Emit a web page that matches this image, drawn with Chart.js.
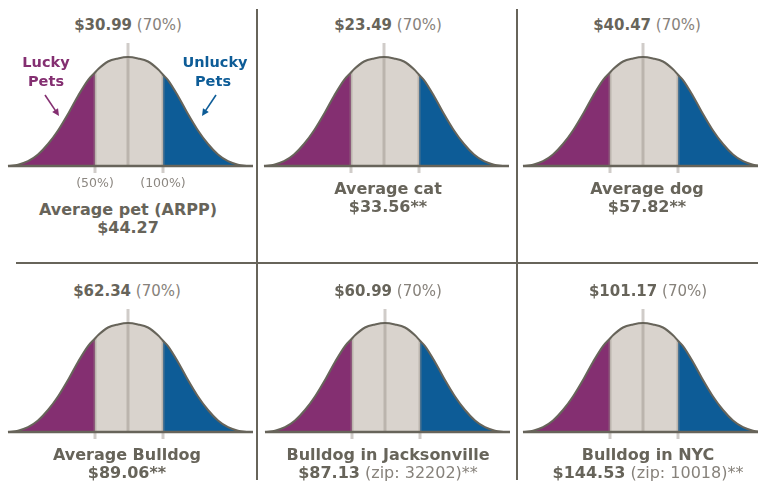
<!DOCTYPE html>
<html>
<head>
<meta charset="utf-8">
<script src="https://cdn.jsdelivr.net/npm/chart.js@4.4.1/dist/chart.umd.min.js"></script>
<style>
  html, body { margin: 0; padding: 0; background: #fff; }
  body { width: 758px; height: 488px; position: relative; overflow: hidden;
         font-family: "DejaVu Sans", sans-serif; color: #67645A; }
  canvas { position: absolute; }
  .txt { position: absolute; transform: translate(-50%, -50%); white-space: nowrap; line-height: 1; }
  .b { font-weight: bold; }
  .n { font-weight: normal; color: #87827B; }
  .rule { position: absolute; background: #67645A; }
</style>
</head>
<body>
<div class="rule" style="left:256px;top:9px;width:2px;height:471px"></div>
<div class="rule" style="left:516px;top:9px;width:2px;height:471px"></div>
<div class="rule" style="left:16px;top:262px;width:742px;height:2px"></div>

<script>
// panel labels
const titles = ['Average pet (ARPP)', 'Average cat', 'Average dog', 'Average Bulldog', 'Bulldog in Jacksonville', 'Bulldog in NYC'];
const price70 = ['$30.99', '$23.49', '$40.47', '$62.34', '$60.99', '$101.17'];
const price100 = ['$44.27', '$33.56', '$57.82', '$89.06', '$87.13', '$144.53'];
const boldNote = ['', '**', '**', '**', '', ''];
const plainNote = ['', '', '', '', ' (zip: 32202)**', ' (zip: 10018)**'];

// bell curve shape (offset from centre, height above baseline)
const curveX = [-120, -110, -100, -90, -80, -70, -60, -50, -40, -33, -30, -20, -10, 0, 10, 20, 30, 35, 40, 50, 60, 70, 80, 90, 100, 110, 120];
const curveY = [0, 1.3, 4.8, 11.5, 22, 35.5, 52, 70, 85.9, 93.5, 96.7, 104.5, 107.6, 109, 107.6, 104.5, 96.7, 91.3, 85.9, 70, 52, 35.5, 22, 11.5, 4.8, 1.3, 0];
const axisX = [-120, 125];

// 50% / 70% / 100% markers
const markerX = [-33, 0, 35];
const markerTop = [93.5, 123, 91.3];
const markerLabels = ['(50%)', '', '(100%)'];

const PURPLE = '#842F71', BLUE = '#0D5C97', SAND = '#D9D3CD', INK = '#67645A';

// where each panel sits on the page
const centerX = [128, 384, 643, 128, 385, 643];
const baseY = [166, 166, 166, 432, 432, 432];
const textX = [128, 388, 647, 127, 388, 648];

function pts(lo, hi) {
    return curveX.map((x, i) => ({ x, y: curveY[i] })).filter(p => p.x >= lo && p.x <= hi);
}

function addText(x, y, html, size) {
    const d = document.createElement('div');
    d.className = 'txt';
    d.style.left = x + 'px';
    d.style.top = y + 'px';
    d.style.fontSize = size + 'px';
    d.innerHTML = html;
    document.body.appendChild(d);
}

// arrows for the "Lucky / Unlucky Pets" callouts on the first panel
const arrowPlugin = {
    id: 'petArrows',
    afterDraw(chart) {
        const { ctx, scales: { x, y } } = chart;
        const arrows = [
            { from: [-83, 71], to: [-69, 50], color: PURPLE },
            { from: [88, 71], to: [74, 50], color: BLUE }
        ];
        arrows.forEach(a => {
            const x1 = x.getPixelForValue(a.from[0]), y1 = y.getPixelForValue(a.from[1]);
            const x2 = x.getPixelForValue(a.to[0]), y2 = y.getPixelForValue(a.to[1]);
            const ang = Math.atan2(y2 - y1, x2 - x1);
            ctx.save();
            ctx.strokeStyle = a.color;
            ctx.fillStyle = a.color;
            ctx.lineWidth = 1.6;
            ctx.beginPath();
            ctx.moveTo(x1, y1);
            ctx.lineTo(x2 - 4 * Math.cos(ang), y2 - 4 * Math.sin(ang));
            ctx.stroke();
            ctx.beginPath();
            ctx.moveTo(x2, y2);
            ctx.lineTo(x2 - 7 * Math.cos(ang) + 3.5 * Math.sin(ang), y2 - 7 * Math.sin(ang) - 3.5 * Math.cos(ang));
            ctx.lineTo(x2 - 7 * Math.cos(ang) - 3.5 * Math.sin(ang), y2 - 7 * Math.sin(ang) + 3.5 * Math.cos(ang));
            ctx.closePath();
            ctx.fill();
            ctx.restore();
        });
    }
};

titles.forEach((title, i) => {
    const canvas = document.createElement('canvas');
    canvas.width = 256;
    canvas.height = 145;
    canvas.style.left = (centerX[i] - 128) + 'px';
    canvas.style.top = (baseY[i] - 130) + 'px';
    document.body.appendChild(canvas);

    const area = { borderWidth: 0, borderColor: 'transparent', fill: 'origin', pointRadius: 0, cubicInterpolationMode: 'monotone' };
    const markers = markerX.map((m, k) => ({
        data: [{ x: m, y: k === 1 ? 0 : -7 }, { x: m, y: markerTop[k] }],
        borderColor: 'rgba(150,143,136,0.45)', borderWidth: 3, pointRadius: 0, fill: false, order: 3
    }));

    new Chart(canvas, {
        type: 'line',
        data: {
            datasets: [
                { ...area, data: pts(-Infinity, markerX[0]), backgroundColor: PURPLE, order: 6 },
                { ...area, data: pts(markerX[0], markerX[2]), backgroundColor: SAND, order: 5 },
                { ...area, data: pts(markerX[2], Infinity), backgroundColor: BLUE, order: 4 },
                ...markers,
                { data: pts(-Infinity, Infinity), borderColor: INK, borderWidth: 2, fill: false, pointRadius: 0, cubicInterpolationMode: 'monotone', order: 2 },
                { data: axisX.map(x => ({ x, y: 0 })), borderColor: INK, borderWidth: 2.5, fill: false, pointRadius: 0, order: 1 }
            ]
        },
        options: {
            responsive: false,
            animation: false,
            events: [],
            layout: { padding: 0 },
            plugins: { legend: { display: false }, tooltip: { enabled: false } },
            scales: {
                x: { type: 'linear', min: -128, max: 128, display: false },
                y: { min: -15, max: 130, display: false }
            }
        },
        plugins: i === 0 ? [arrowPlugin] : []
    });

    const top = baseY[i] - 141;
    addText(textX[i], top, `<span class="b">${price70[i]}</span> <span class="n">(70%)</span>`, 15);
    const shift = i === 0 ? 21 : 0;
    addText(textX[i], baseY[i] + 23 + shift, `<span class="b">${title}</span>`, 16);
    addText(textX[i], baseY[i] + 41 + shift,
        `<span class="b">${price100[i]}${boldNote[i]}</span><span class="n">${plainNote[i]}</span>`, 16);

    if (i === 0) {
        markerLabels.forEach((lab, k) => {
            if (lab) addText(centerX[i] + markerX[k], baseY[i] + 17, `<span class="n" style="color:#8C8781">${lab}</span>`, 12.5);
        });
        addText(46, 62, `<span class="b" style="color:${PURPLE}">Lucky</span>`, 14.5);
        addText(46, 81, `<span class="b" style="color:${PURPLE}">Pets</span>`, 14.5);
        addText(215, 62, `<span class="b" style="color:${BLUE}">Unlucky</span>`, 14.5);
        addText(213, 81, `<span class="b" style="color:${BLUE}">Pets</span>`, 14.5);
    }
});
</script>
</body>
</html>
